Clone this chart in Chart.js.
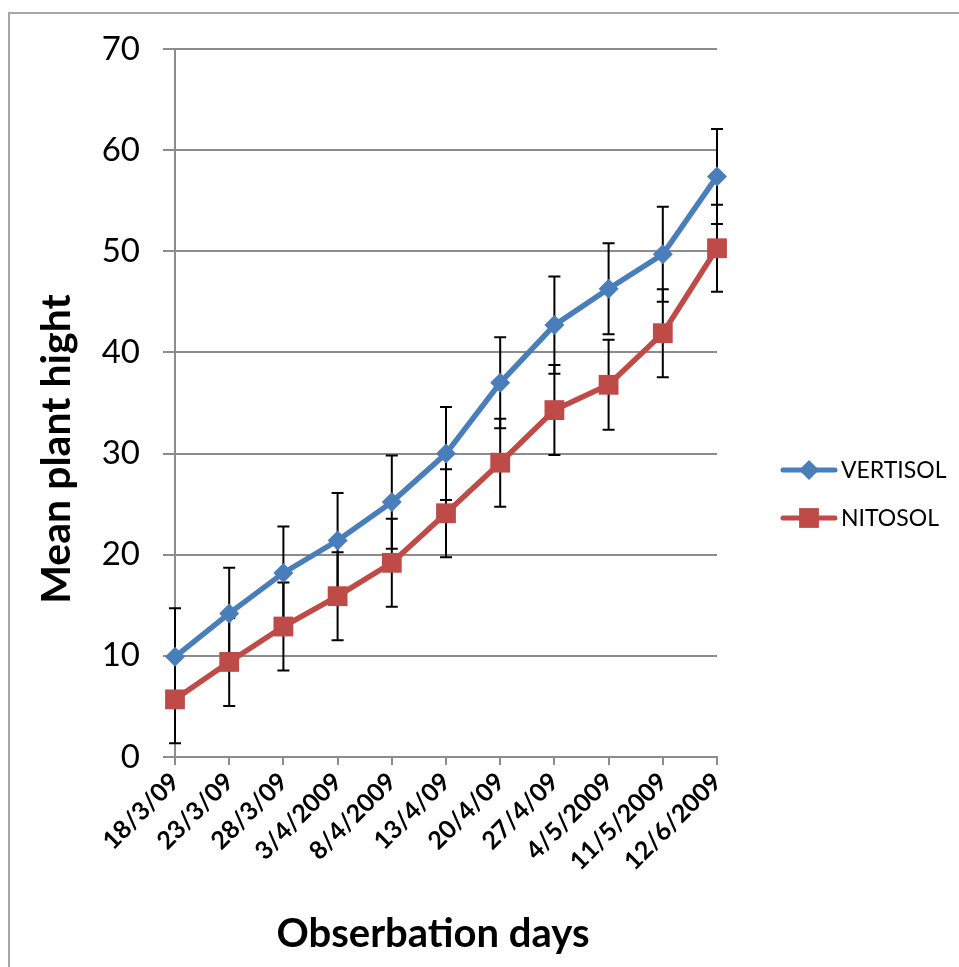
<!DOCTYPE html>
<html>
<head>
<meta charset="utf-8">
<script src="https://cdn.jsdelivr.net/npm/chart.js@4.4.1/dist/chart.umd.min.js"></script>
<style>
  html, body { margin: 0; padding: 0; background: #ffffff; overflow: hidden; }
  #wrap { position: relative; width: 959px; height: 967px; }
  #frame { position: absolute; left: 8px; top: 12px; width: 1000px; height: 1000px;
           border-left: 2px solid #a6a6a6; border-top: 2px solid #a6a6a6; }
  canvas { position: absolute; left: 0; top: 0; }
</style>
</head>
<body>
<div id="wrap">
  <div id="frame"></div>
  <canvas id="c" width="959" height="967"></canvas>
</div>
<script>
// ---- data ----
const categories = ["18/3/09", "23/3/09", "28/3/09", "3/4/2009", "8/4/2009", "13/4/09",
                    "20/4/09", "27/4/09", "4/5/2009", "11/5/2009", "12/6/2009"];
const vertisol    = [9.9, 14.2, 18.2, 21.4, 25.2, 30.0, 37.0, 42.7, 46.3, 49.7, 57.4];
const vertisolErr = [4.8, 4.5, 4.6, 4.7, 4.6, 4.6, 4.5, 4.8, 4.5, 4.7, 4.7];
const nitosol     = [5.7, 9.4, 12.9, 15.9, 19.2, 24.1, 29.1, 34.3, 36.8, 41.9, 50.3];
const nitosolErr  = [4.35, 4.35, 4.35, 4.35, 4.35, 4.35, 4.35, 4.45, 4.45, 4.35, 4.3];
const yTicks      = [0, 10, 20, 30, 40, 50, 60, 70];
const seriesNames = ["VERTISOL", "NITOSOL"];
const yTitle = "Mean plant hight";
const xTitle = "Obserbation days";

const BLUE = "#4a7ebb";
const RED = "#be4b48";
const GRID = "#8c8c8c";
const FONT = "Lato, 'Open Sans', sans-serif";

const errorBars = {
  id: "errorBars",
  beforeDatasetsDraw(chart) {
    const ctx = chart.ctx;
    const ys = chart.scales.y;
    const errs = [vertisolErr, nitosolErr];
    ctx.save();
    ctx.strokeStyle = "#000000";
    ctx.lineWidth = 2;
    chart.data.datasets.forEach((ds, di) => {
      const meta = chart.getDatasetMeta(di);
      meta.data.forEach((pt, i) => {
        const v = ds.data[i], e = errs[di][i];
        const x = pt.x;
        const yt = ys.getPixelForValue(v + e);
        const yb = ys.getPixelForValue(v - e);
        ctx.beginPath();
        ctx.moveTo(x, yt); ctx.lineTo(x, yb);
        ctx.moveTo(x - 6, yt); ctx.lineTo(x + 6, yt);
        ctx.moveTo(x - 6, yb); ctx.lineTo(x + 6, yb);
        ctx.stroke();
      });
    });
    ctx.restore();
  }
};

const extras = {
  id: "extras",
  afterDraw(chart) {
    const ctx = chart.ctx;
    ctx.save();
    ctx.fillStyle = "#000000";
    // axis titles
    ctx.font = "bold 40px " + FONT;
    ctx.textAlign = "center";
    ctx.textBaseline = "middle";
    ctx.fillText(xTitle, 433, 934);
    ctx.save();
    ctx.translate(57, 449);
    ctx.rotate(-Math.PI / 2);
    ctx.font = "bold 41px " + FONT;
    ctx.fillText(yTitle, 0, 0);
    ctx.restore();
    // legend
    const items = [
      { name: seriesNames[0], color: BLUE, style: "rectRot", r: 10, y: 470 },
      { name: seriesNames[1], color: RED, style: "rect", r: 14, y: 518 }
    ];
    items.forEach(it => {
      ctx.strokeStyle = it.color;
      ctx.lineWidth = 5;
      ctx.lineCap = "round";
      ctx.beginPath();
      ctx.moveTo(783, it.y); ctx.lineTo(835, it.y);
      ctx.stroke();
      ctx.fillStyle = it.color;
      Chart.helpers.drawPoint(ctx, { pointStyle: it.style, radius: it.r, borderWidth: 0 }, 809, it.y);
      ctx.fillStyle = "#000000";
      ctx.font = "23px " + FONT;
      ctx.textAlign = "left";
      ctx.textBaseline = "middle";
      ctx.fillText(it.name, 841, it.y + 1);
    });
    ctx.restore();
  }
};

new Chart(document.getElementById("c"), {
  type: "line",
  data: {
    labels: categories,
    datasets: [
      { label: seriesNames[0], data: vertisol, borderColor: BLUE, backgroundColor: BLUE,
        borderWidth: 5.5, pointStyle: "rectRot", pointRadius: 10, pointBorderWidth: 0,
        pointBackgroundColor: BLUE, tension: 0 },
      { label: seriesNames[1], data: nitosol, borderColor: RED, backgroundColor: RED,
        borderWidth: 5.5, pointStyle: "rect", pointRadius: 14, pointBorderWidth: 0,
        pointBackgroundColor: RED, tension: 0 }
    ]
  },
  options: {
    responsive: false,
    animation: false,
    layout: { padding: { top: 49, right: 242, left: 0, bottom: 0 } },
    plugins: { legend: { display: false }, tooltip: { enabled: false } },
    scales: {
      x: {
        offset: false,
        grid: { drawOnChartArea: false, drawTicks: true, tickLength: 8, color: GRID, lineWidth: 2 },
        border: { color: GRID, width: 2 },
        ticks: { minRotation: 45, maxRotation: 45, autoSkip: false, padding: 2,
                 color: "#000000", font: { family: FONT, size: 25, weight: "bold" } },
        afterFit(s) { s.height = 210; }
      },
      y: {
        min: 0, max: 70,
        afterBuildTicks(s) { s.ticks = yTicks.map(v => ({ value: v })); },
        grid: { color: GRID, lineWidth: 2, tickLength: 12 },
        border: { color: GRID, width: 2 },
        ticks: { padding: 23, color: "#000000", font: { family: FONT, size: 33 } },
        afterFit(s) { s.width = 175; }
      }
    }
  },
  plugins: [errorBars, extras]
});
</script>
</body>
</html>
